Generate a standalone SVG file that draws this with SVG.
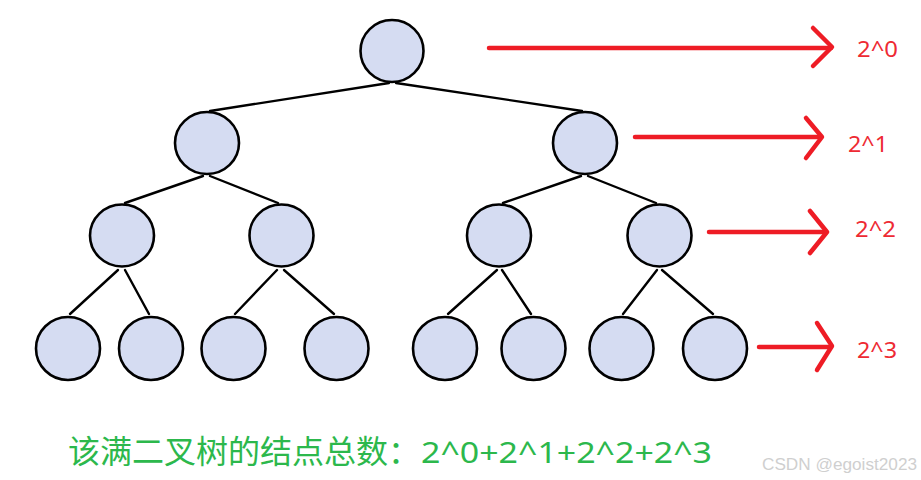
<svg xmlns="http://www.w3.org/2000/svg" width="921" height="480" viewBox="0 0 921 480">
<style>
.n{fill:#d5dcf2;stroke:#000;stroke-width:2.6}
.e{stroke:#000;stroke-width:2.4;fill:none;stroke-linecap:round}
.a{stroke:#ee1c25;stroke-width:4.5;fill:none;stroke-linecap:round;stroke-linejoin:round}
.lbl{font-family:"Noto Sans","Open Sans",sans-serif;font-size:21px;fill:#ee2a33}
.sum{font-family:"Noto Sans CJK SC","Noto Sans",sans-serif;font-size:32px;fill:#2cb84c}
.wm{font-family:"Liberation Sans","DejaVu Sans",sans-serif;font-size:16px;fill:#cfcfcf}
</style>
<rect width="921" height="480" fill="#fff"/>
<g id="edges">
<line class="e" x1="389" y1="83" x2="210" y2="111"/>
<line class="e" x1="396" y1="83" x2="582" y2="111"/>
<line class="e" x1="203" y1="176" x2="125" y2="203"/>
<line class="e" x1="210" y1="176" x2="278" y2="203"/>
<line class="e" x1="581" y1="176" x2="503" y2="203"/>
<line class="e" x1="588" y1="176" x2="656" y2="203"/>
<line class="e" x1="118" y1="270" x2="70" y2="314"/>
<line class="e" x1="125" y1="270" x2="149" y2="314"/>
<line class="e" x1="277" y1="270" x2="235" y2="314"/>
<line class="e" x1="284" y1="270" x2="334" y2="314"/>
<line class="e" x1="497" y1="270" x2="448" y2="314"/>
<line class="e" x1="502" y1="270" x2="531" y2="314"/>
<line class="e" x1="657" y1="270" x2="623" y2="314"/>
<line class="e" x1="662" y1="270" x2="713" y2="314"/>
</g>
<g id="n0"><ellipse class="n" cx="392" cy="51" rx="31.5" ry="31"/></g>
<g id="n1"><ellipse class="n" cx="207" cy="143" rx="32" ry="31"/></g>
<g id="n2"><ellipse class="n" cx="585" cy="143" rx="32" ry="31"/></g>
<g id="n3"><ellipse class="n" cx="122" cy="235.5" rx="32" ry="31"/></g>
<g id="n4"><ellipse class="n" cx="281.5" cy="235.5" rx="32" ry="31"/></g>
<g id="n5"><ellipse class="n" cx="499" cy="235.5" rx="32" ry="31"/></g>
<g id="n6"><ellipse class="n" cx="659.5" cy="235.5" rx="32" ry="31"/></g>
<g id="n7"><ellipse class="n" cx="68" cy="348.5" rx="32" ry="31.5"/></g>
<g id="n8"><ellipse class="n" cx="151" cy="348.5" rx="32" ry="31.5"/></g>
<g id="n9"><ellipse class="n" cx="233.5" cy="348.5" rx="32" ry="31.5"/></g>
<g id="n10"><ellipse class="n" cx="336.5" cy="348.5" rx="32" ry="31.5"/></g>
<g id="n11"><ellipse class="n" cx="445" cy="348.5" rx="32" ry="31.5"/></g>
<g id="n12"><ellipse class="n" cx="533.5" cy="348.5" rx="32" ry="31.5"/></g>
<g id="n13"><ellipse class="n" cx="621.5" cy="348.5" rx="32" ry="31.5"/></g>
<g id="n14"><ellipse class="n" cx="715" cy="348.5" rx="32" ry="31.5"/></g>
<g id="arrows">
<line class="a" x1="489" y1="48" x2="831" y2="48"/>
<polyline class="a" points="813,28 832,47 813,66"/>
<line class="a" x1="635" y1="137" x2="821" y2="137"/>
<polyline class="a" points="806,118 822,137 806,158"/>
<line class="a" x1="709" y1="232" x2="826" y2="232"/>
<polyline class="a" points="810,211 827,232 810,253"/>
<line class="a" x1="759" y1="347" x2="831" y2="347"/>
<polyline class="a" points="817,323 832,346 817,370"/>
</g>
<text class="lbl" x="857" y="57" textLength="41" lengthAdjust="spacingAndGlyphs">2^0</text>
<text class="lbl" x="848" y="152" textLength="40" lengthAdjust="spacingAndGlyphs">2^1</text>
<text class="lbl" x="855" y="237" textLength="41" lengthAdjust="spacingAndGlyphs">2^2</text>
<text class="lbl" x="857" y="358" textLength="40" lengthAdjust="spacingAndGlyphs">2^3</text>
<text class="sum" x="68" y="463">该满二叉树的结点总数：</text>
<text class="sum" x="421" y="463" textLength="291" lengthAdjust="spacingAndGlyphs" style="font-family:'Noto Sans',sans-serif;font-size:29px">2^0+2^1+2^2+2^3</text>
<text class="wm" x="762" y="470" textLength="155" lengthAdjust="spacingAndGlyphs">CSDN @egoist2023</text>
</svg>
